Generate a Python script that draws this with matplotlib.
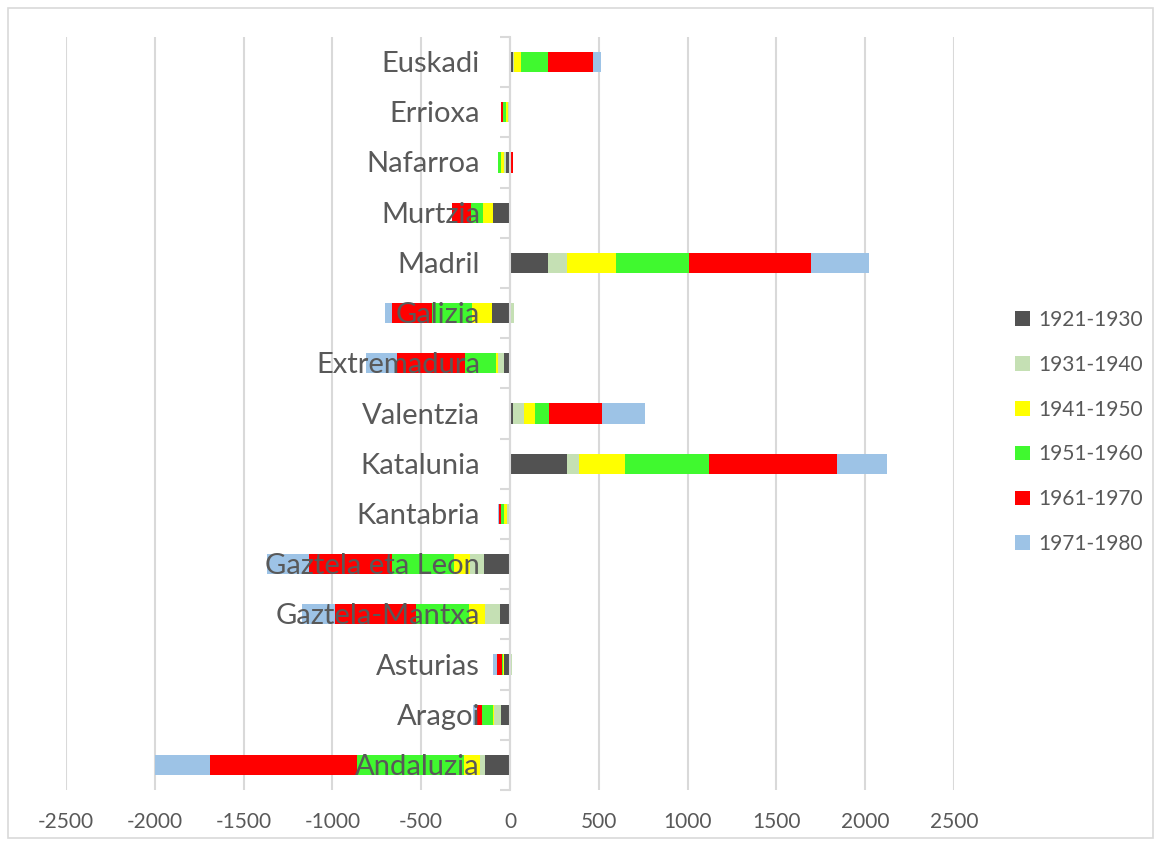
import matplotlib
matplotlib.use("Agg")
import matplotlib.pyplot as plt
import matplotlib.transforms as mtransforms
from matplotlib.patches import Rectangle, Patch
import numpy as np

plt.rcParams['font.family'] = ['Lato', 'DejaVu Sans']

categories = ["Andaluzia", "Aragoi", "Asturias", "Gaztela-Mantxa", "Gaztela eta Leon",
              "Kantabria", "Katalunia", "Valentzia", "Extremadura", "Galizia",
              "Madril", "Murtzia", "Nafarroa", "Errioxa", "Euskadi"]

s1921 = [-138, -53, -34, -59, -144, -6, 321, 15, -34, -100, 216, -94, -20, -5, 19]
s1931 = [-32, -38, 10, -79, -79, -13, 69, 62, -32, 20, 105, -3, -15, -9, 3]
s1941 = [-90, -3, -6, -94, -94, -13, 259, 66, -15, -113, 276, -56, -15, -10, 39]
s1951 = [-601, -66, -3, -300, -347, -19, 471, 75, -175, -225, 413, -69, -15, -13, 152]
s1961 = [-830, -28, -32, -456, -470, -13, 721, 302, -379, -229, 687, -105, 15, -11, 253]
s1971 = [-306, -23, -19, -182, -234, -3, 282, 240, -173, -39, 327, 0, 0, 0, 45]

series_names = ["1921-1930", "1931-1940", "1941-1950", "1951-1960", "1961-1970", "1971-1980"]
series_values = [s1921, s1931, s1941, s1951, s1961, s1971]
colors = ["#525252", "#C5E0B4", "#FFFF00", "#40F92F", "#FF0000", "#9DC3E6"]

xticks = [-2500, -2000, -1500, -1000, -500, 0, 500, 1000, 1500, 2000, 2500]

text_color = "#595959"
grid_color = "#D9D9D9"

fig = plt.figure(figsize=(11.61, 8.46), dpi=100)
ax = fig.add_axes([66/1161, 1 - 790/846, (954-66)/1161, (790-37)/846])
ax.set_axisbelow(True)

y = np.arange(len(categories))
pos_cum = np.zeros(len(categories))
neg_cum = np.zeros(len(categories))
for name, vals, col in zip(series_names, series_values, colors):
    v = np.array(vals, dtype=float)
    left = np.where(v >= 0, pos_cum, neg_cum)
    ax.barh(y, v, left=left, height=0.4, color=col, edgecolor='none', label=name, zorder=2)
    pos_cum = pos_cum + np.where(v >= 0, v, 0)
    neg_cum = neg_cum + np.where(v < 0, v, 0)

ax.set_xlim(-2500, 2500)
ax.set_ylim(-0.5, len(categories) - 0.5)
ax.set_xticks(xticks)
ax.set_xticklabels([str(t) for t in xticks])
ax.tick_params(axis='x', length=0, pad=16, labelsize=15, labelcolor=text_color)
ax.grid(axis='x', color=grid_color, linewidth=1.5)
ax.grid(axis='y', visible=False)

for s in ['top', 'right', 'bottom']:
    ax.spines[s].set_visible(False)
ax.spines['left'].set_position(('data', 0))
ax.spines['left'].set_color(grid_color)
ax.spines['left'].set_linewidth(1.5)
ax.spines['left'].set_zorder(3)

ax.set_yticks(y)
ax.set_yticklabels([])
ax.tick_params(axis='y', which='major', length=0)
ax.set_yticks(np.arange(-0.5, len(categories), 1.0), minor=True)
ax.tick_params(axis='y', which='minor', length=7.2, width=1.5, color=grid_color, direction='out')

trans = mtransforms.offset_copy(ax.transData, fig=fig, x=-30, y=-2, units='dots')
for yi, cat in zip(y, categories):
    ax.text(0, yi, cat, transform=trans, ha='right', va='center', fontsize=21,
            color=text_color, zorder=5)

handles = [Patch(facecolor=c, edgecolor='none') for c in colors]
leg = fig.legend(handles, series_names, loc='center left',
                 bbox_to_anchor=(1015/1161, 1 - 432/846), frameon=False,
                 fontsize=15, handlelength=0.7, handleheight=0.7, handletextpad=0.4,
                 labelspacing=1.19, borderpad=0, borderaxespad=0)
for t in leg.get_texts():
    t.set_color(text_color)

fig.patches.append(Rectangle((8/1161, 8/846), 1 - 16/1161, 1 - 16/846,
                             transform=fig.transFigure, fill=False,
                             edgecolor=grid_color, linewidth=1.2))

fig.savefig("out.png", dpi=100)
